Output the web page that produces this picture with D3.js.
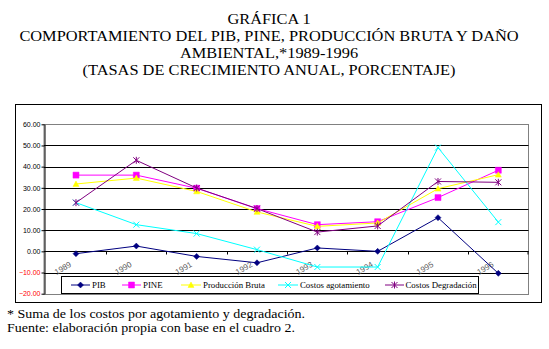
<!DOCTYPE html>
<html>
<head>
<meta charset="utf-8">
<script src="https://cdn.jsdelivr.net/npm/d3@7"></script>
<style>
  body { margin: 0; background: #fff; }
  svg { display: block; }
</style>
</head>
<body>
<div id="chart"></div>
<script>
// data
const years = ['1989', '1990', '1991', '1992', '1993', '1994', '1995', '1996'];
const pib = [-1.1, 2.5, -2.4, -5.4, 1.6, 0.0, 15.9, -10.4];
const pine = [36.0, 36.0, 29.8, 20.2, 12.6, 14.0, 25.4, 38.3];
const produccionBruta = [31.8, 34.6, 28.3, 18.6, 11.8, 13.4, 29.6, 36.2];
const costosAgotamiento = [23.0, 12.6, 8.4, 0.8, -7.4, -7.4, 49.0, 13.8];
const costosDegradacion = [23.0, 43.0, 29.9, 20.2, 9.1, 12.0, 33.0, 32.6];
const yTicks = [60, 50, 40, 30, 20, 10, 0, -10, -20];

const titleLines = [
  'GRÁFICA 1',
  'COMPORTAMIENTO DEL PIB, PINE, PRODUCCIÓN BRUTA Y DAÑO',
  'AMBIENTAL,*1989-1996',
  '(TASAS DE CRECIMIENTO ANUAL, PORCENTAJE)'
];
const notes = [
  '* Suma de los costos por agotamiento y degradación.',
  'Fuente: elaboración propia con base en el cuadro 2.'
];

const series = [
  {name: 'PIB', values: pib, color: '#000080', marker: 'diamond'},
  {name: 'PINE', values: pine, color: '#ff00ff', marker: 'square'},
  {name: 'Producción Bruta', values: produccionBruta, color: '#ffff00', marker: 'triangle'},
  {name: 'Costos agotamiento', values: costosAgotamiento, color: '#00ffff', marker: 'cross'},
  {name: 'Costos Degradación', values: costosDegradacion, color: '#800080', marker: 'star'}
];

const width = 549, height = 349;
const serif = "'Liberation Serif'";
const sans = "'Liberation Sans'";

const svg = d3.select('#chart').append('svg')
  .attr('width', width)
  .attr('height', height);

// titles (the scan is a bit stretched sideways)
svg.append('g').selectAll('text')
  .data(titleLines)
  .enter().append('text')
  .attr('transform', (d, i) => `translate(269,${23.5 + i * 17}) scale(1.17,1)`)
  .attr('text-anchor', 'middle')
  .style('font-family', serif)
  .style('font-size', '14px')
  .text(d => d);

// outer frame
svg.append('rect')
  .attr('x', 15.5).attr('y', 104.5)
  .attr('width', 526).attr('height', 198)
  .attr('fill', 'none').attr('stroke', '#000').attr('stroke-width', 1);

const plotLeft = 44, plotRight = 528.5;
const x = d3.scaleBand().domain(years).range([45.8, 528.5]).paddingInner(0).paddingOuter(0);
const y = d3.scaleLinear().domain([-20, 60]).range([293.7, 124.3]);
const cx = d => x(d) + x.bandwidth() / 2;

// plot area border (grey)
svg.append('rect')
  .attr('x', plotLeft).attr('y', Math.round(y(60)) + 0.5)
  .attr('width', plotRight - plotLeft).attr('height', Math.round(y(-20)) - Math.round(y(60)))
  .attr('fill', 'none').attr('stroke', '#808080');

// gridlines
svg.append('g').selectAll('line')
  .data(yTicks.filter(t => t < 60 && t > -20))
  .enter().append('line')
  .attr('x1', plotLeft).attr('x2', plotRight)
  .attr('y1', d => Math.round(y(d)) + 0.5).attr('y2', d => Math.round(y(d)) + 0.5)
  .attr('stroke', '#000');

// y axis
const yAxis = svg.append('g')
  .attr('transform', `translate(${plotLeft + 0.5},0)`)
  .call(d3.axisLeft(y).tickValues(yTicks).tickSize(3).tickSizeOuter(0).tickFormat(d3.format('.2f')));
yAxis.select('.domain').attr('stroke', '#000');
yAxis.selectAll('.tick line').attr('stroke', '#000');
yAxis.selectAll('.tick text')
  .style('font-family', sans)
  .style('font-size', '7px')
  .attr('x', -4)
  .attr('fill', d => d < 0 ? '#ff0000' : '#000');

// x axis on zero line
const zeroY = Math.round(y(0)) + 0.5;
const xAxis = svg.append('g').attr('transform', `translate(0,${zeroY})`);
xAxis.append('line')
  .attr('x1', plotLeft).attr('x2', plotRight)
  .attr('stroke', '#000');
xAxis.selectAll('line.tk')
  .data(years.slice(1).concat(['end']))
  .enter().append('line')
  .attr('class', 'tk')
  .attr('x1', d => d === 'end' ? plotRight - 0.5 : Math.round(x(d)) + 0.5)
  .attr('x2', d => d === 'end' ? plotRight - 0.5 : Math.round(x(d)) + 0.5)
  .attr('y1', 0).attr('y2', 3)
  .attr('stroke', '#000');
xAxis.selectAll('text')
  .data(years)
  .enter().append('text')
  .attr('transform', d => `translate(${cx(d) - 4},${14.5}) rotate(-30)`)
  .attr('text-anchor', 'end')
  .style('font-family', sans)
  .style('font-size', '8px')
  .attr('fill', '#555')
  .text(d => d);

// marker shapes
function markerPath(type, s) {
  switch (type) {
    case 'diamond': return `M0,${-s}L${s},0L0,${s}L${-s},0Z`;
    case 'square': return `M${-s},${-s}H${s}V${s}H${-s}Z`;
    case 'triangle': return `M0,${-s}L${s},${s * 0.8}L${-s},${s * 0.8}Z`;
    case 'cross': return `M${-s},${-s}L${s},${s}M${s},${-s}L${-s},${s}`;
    case 'star': return `M${-s},${-s}L${s},${s}M${s},${-s}L${-s},${s}M0,${-s - 0.5}V${s + 0.5}`;
  }
}
const filled = t => t === 'diamond' || t === 'square' || t === 'triangle';

const line = d3.line()
  .x((d, i) => cx(years[i]))
  .y(d => y(d));

series.forEach(s => {
  const g = svg.append('g');
  g.append('path')
    .datum(s.values)
    .attr('d', line)
    .attr('fill', 'none')
    .attr('stroke', s.color)
    .attr('stroke-width', 1);
  g.selectAll('path.mk')
    .data(s.values)
    .enter().append('path')
    .attr('class', 'mk')
    .attr('transform', (d, i) => `translate(${cx(years[i])},${y(d)})`)
    .attr('d', markerPath(s.marker, 3))
    .attr('fill', filled(s.marker) ? s.color : 'none')
    .attr('stroke', s.color)
    .attr('stroke-width', filled(s.marker) ? 0.5 : 1);
});

// legend
const legendPos = [
  {x0: 71, x1: 90, tx: 92},
  {x0: 122, x1: 141, tx: 143},
  {x0: 181, x1: 201, tx: 203},
  {x0: 278, x1: 298, tx: 300},
  {x0: 385, x1: 404, tx: 405.5}
];
const legend = svg.append('g');
legend.append('rect')
  .attr('x', 61.5).attr('y', 276.5)
  .attr('width', 417).attr('height', 17)
  .attr('fill', '#fff').attr('stroke', '#000');
const ly = 285;
series.forEach((s, i) => {
  const p = legendPos[i];
  legend.append('line')
    .attr('x1', p.x0).attr('x2', p.x1)
    .attr('y1', ly).attr('y2', ly)
    .attr('stroke', s.color);
  legend.append('path')
    .attr('transform', `translate(${(p.x0 + p.x1) / 2},${ly})`)
    .attr('d', markerPath(s.marker, 3))
    .attr('fill', filled(s.marker) ? s.color : 'none')
    .attr('stroke', s.color)
    .attr('stroke-width', filled(s.marker) ? 0.5 : 1);
  legend.append('text')
    .attr('x', p.tx).attr('y', ly + 3)
    .style('font-family', serif)
    .style('font-size', '8.8px')
    .text(s.name);
});

// footnotes
svg.append('g').selectAll('text')
  .data(notes)
  .enter().append('text')
  .attr('transform', (d, i) => `translate(7,${318 + i * 14}) scale(1.12,1)`)
  .style('font-family', serif)
  .style('font-size', '12.5px')
  .text(d => d);
</script>
</body>
</html>
